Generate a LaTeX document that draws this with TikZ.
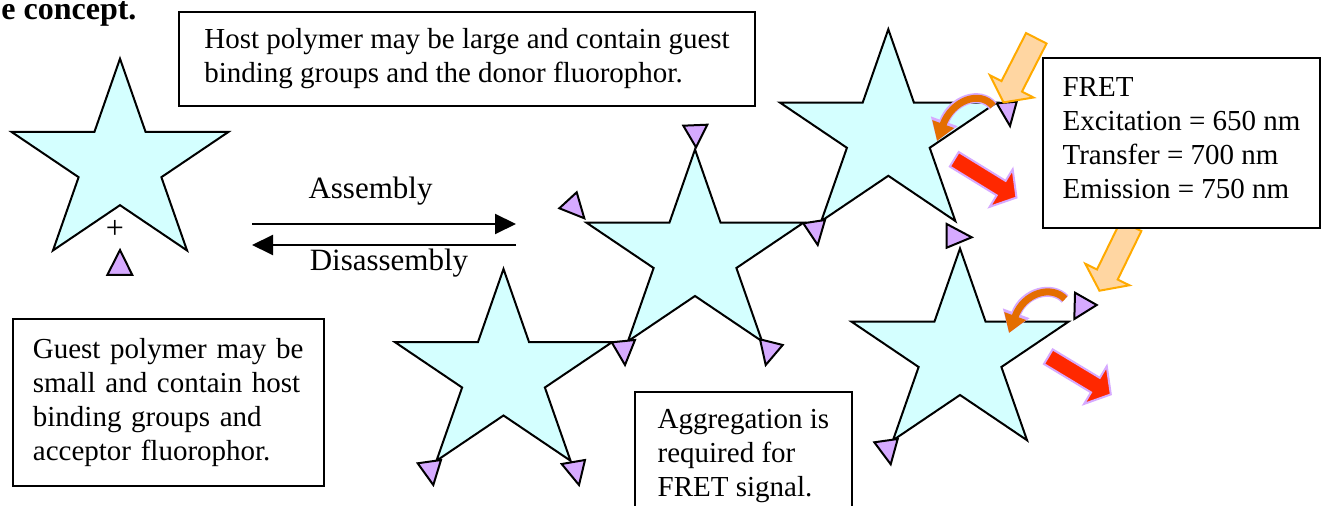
\documentclass[tikz,border=0pt]{standalone}
\usepackage{fontspec}
\setmainfont{Liberation Serif}
\usetikzlibrary{arrows.meta, positioning}
\definecolor{hostcyan}{RGB}{212,255,255}
\definecolor{guestlilac}{RGB}{214,170,255}
\definecolor{emitred}{RGB}{255,40,0}
\definecolor{excitepeach}{RGB}{255,214,162}
\definecolor{exciteedge}{RGB}{255,170,0}
\definecolor{transferorange}{RGB}{228,110,0}
\newcommand{\bodyfont}{\fontsize{14.5}{17}\selectfont}
\newcommand{\labelfont}{\fontsize{15.5}{18}\selectfont}

\tikzset{
  notebox/.style={draw, line width=1pt, fill=white, inner sep=0pt, align=left, font=\bodyfont},
  starshape/.style={draw, line width=1pt, fill=hostcyan, line join=miter},
  guestmark/.style={draw, line width=1pt, fill=guestlilac, line join=miter},
  emitarrow/.style={draw=guestlilac, line width=1pt, fill=emitred, line join=miter},
  excitearrow/.style={draw=exciteedge, line width=1pt, fill=excitepeach, line join=miter},
  reactarrow/.style={line width=1pt, -{Triangle[length=10.5pt, width=10pt]}},
}

\begin{document}
\begin{tikzpicture}[x=0.5pt, y=-0.5pt]
  \useasboundingbox (0,0) rectangle (1325,506);
  % Title (cut at the left edge)
  \node[font=\bfseries\fontsize{16}{19}\selectfont, anchor=base west, inner sep=0pt, text height=9.5pt] (title) at (1,20) {e concept.};
  % Host stars
  \foreach \cx/\cy in {120/164.7, 503.5/375, 695/255.5, 888.3/135.3, 960/354.5}{
    \begin{scope}[shift={(\cx,\cy)}, xscale=114, yscale=106]
      \draw[starshape] (0,-1) -- (0.2245,-0.309) -- (0.951,-0.309) -- (0.363,0.118)
        -- (0.588,0.809) -- (0,0.382) -- (-0.588,0.809) -- (-0.363,0.118)
        -- (-0.951,-0.309) -- (-0.2245,-0.309) -- cycle;
    \end{scope}
  }
  \node[font=\fontsize{16}{19}\selectfont, inner sep=0pt] (plus) at (115,229) {+};
  % Guest triangles
  \foreach \ax/\ay/\bx/\by/\qx/\qy in {
      120/250/107.3/275/132.3/275,
      683.3/125.7/707.3/124.7/696/147.3,
      559.3/208.3/576.7/192.3/584.3/218.3,
      803.3/223.3/825/220/817.7/245,
      611.7/342.3/635/340/625/365,
      760/339.3/782.7/345/765.7/365,
      417.7/463.3/441/460/433.3/485,
      561.7/464/585/460/579/485,
      946.7/224/971.7/237.3/946.7/247.7,
      996.7/103.3/1016.7/101.7/1010/126,
      874.3/442.3/897.7/439/890.7/464.3,
      1075/292.7/1096.7/305/1074.3/319}{
    \draw[guestmark] (\ax,\ay) -- (\bx,\by) -- (\qx,\qy) -- cycle;
  }
  % Assembly / disassembly
  \coordinate (asmL) at (252,224);
  \coordinate (asmR) at (516,224);
  \coordinate (disR) at (516,245);
  \coordinate (disL) at (252,245);
  \draw[reactarrow] (asmL) -- (asmR);
  \draw[reactarrow] (disR) -- (disL);
  \node[font=\labelfont, anchor=base, inner sep=0pt] (asmlabel) at (370.5,199) {Assembly};
  \node[font=\labelfont, anchor=base, inner sep=0pt] (dislabel) at (389,271) {Disassembly};
  % Energy transfer (curved)
  \foreach \lw/\col/\tl/\tw in {5/guestlilac/10.5/13.5, 3.5/transferorange/9/11}{
    \draw[\col, line width=\lw pt, -{Triangle[length=\tl pt, width=\tw pt]}]
      (993,106) .. controls (980,90) and (952,100) .. (937,141);
    \draw[\col, line width=\lw pt, -{Triangle[length=\tl pt, width=\tw pt]}]
      (1065,299) .. controls (1052,285) and (1024,292) .. (1009,333);
  }
  % Emission arrows
  \foreach \tx/\ty/\ang in {954.3/159.3/-31.6, 1048.3/356.7/-31.1}{
    \begin{scope}[shift={(\tx,\ty)}, rotate=\ang]
      \draw[emitarrow] (0,-8.5) -- (55,-8.5) -- (55,-22) -- (73,0) -- (55,22) -- (55,8.5) -- (0,8.5) -- cycle;
    \end{scope}
  }
  % Excitation arrows
  \foreach \tx/\ty/\ang in {1036.3/38.3/-117.1, 1131/226/-116}{
    \begin{scope}[shift={(\tx,\ty)}, rotate=\ang]
      \draw[excitearrow] (0,-11.5) -- (54,-11.5) -- (54,-24.5) -- (72,0) -- (54,24.5) -- (54,11.5) -- (0,11.5) -- cycle;
    \end{scope}
  }
  % Notes
  \node[notebox, minimum width=288pt, minimum height=47pt] (hostnote) at (467,59)
    {Host polymer may be large and contain guest\\binding groups and the donor fluorophor.};
  \node[notebox, minimum height=83.5pt, text width=135.5pt, inner xsep=10pt] (guestnote) at (168.4,402.7)
    {Guest polymer may be\\small and contain host\\binding groups and\\acceptor fluorophor.\rule[-3pt]{0pt}{3pt}};
  \node[notebox, minimum width=108.3pt, minimum height=60.2pt] (aggnote) at (743.4,452)
    {\rule{0pt}{13.5pt}Aggregation is\\required for\\FRET signal.};
  \node[notebox, minimum width=138.5pt, minimum height=85pt] (fretnote) at (1181.5,143)
    {FRET\\Excitation = 650 nm\\Transfer = 700 nm\\Emission = 750 nm\rule[-5pt]{0pt}{5pt}};
\end{tikzpicture}
\end{document}
